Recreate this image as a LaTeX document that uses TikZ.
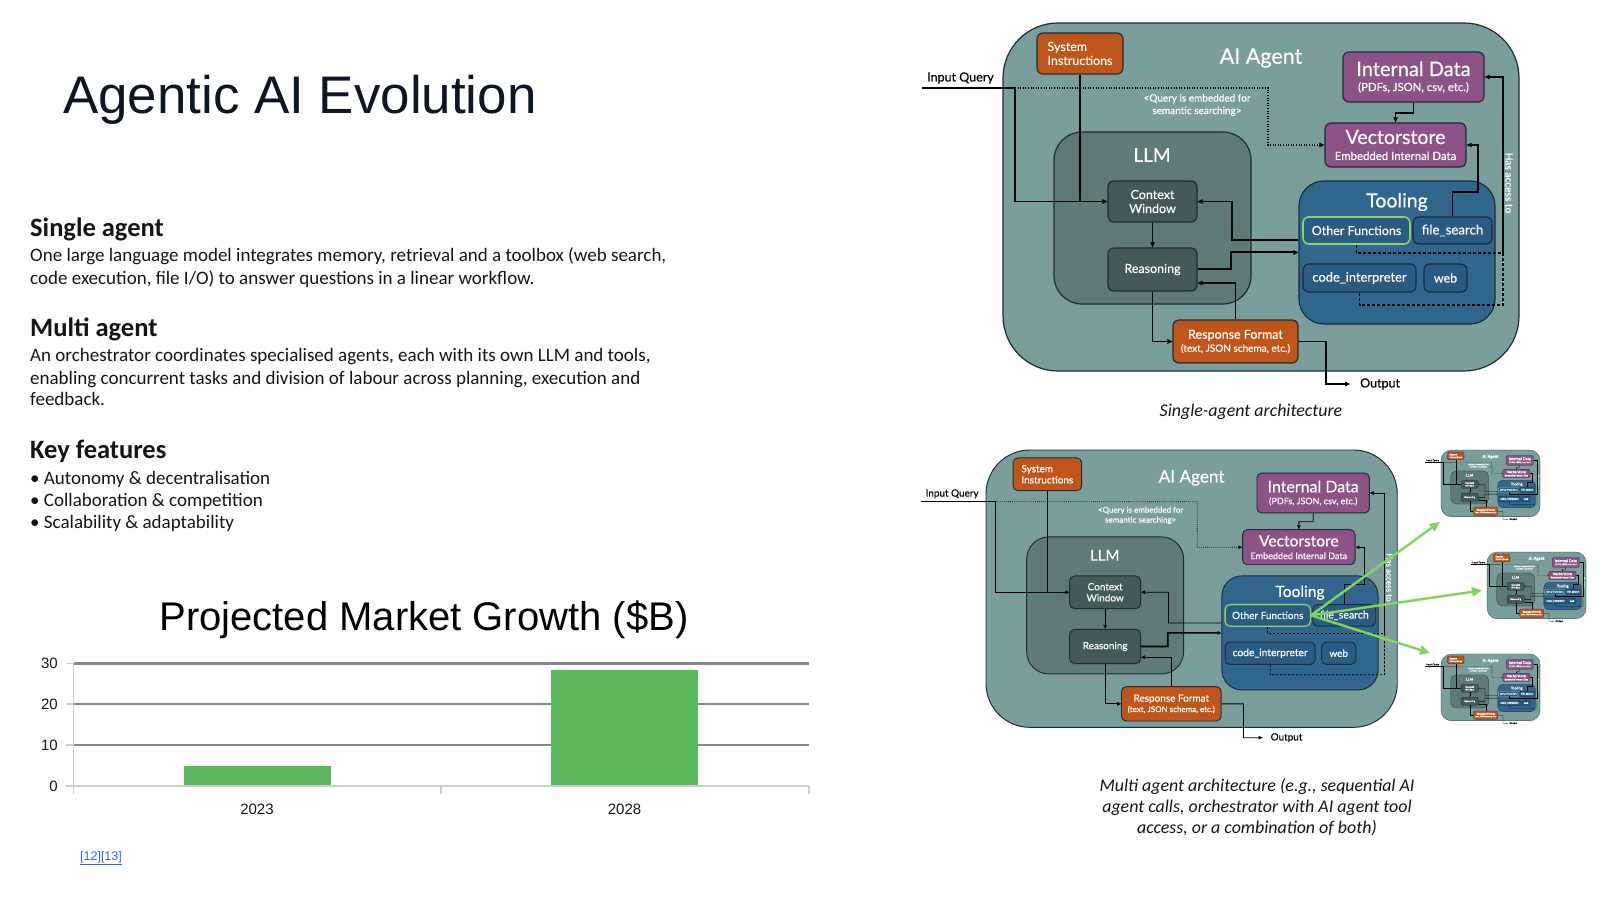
\documentclass[tikz,border=0pt]{standalone}
\usepackage{fontspec}
\setmainfont{Carlito}
\newfontfamily\arialfont{Liberation Sans}
\newfontfamily\diafont[FakeBold=0.35]{Lato}
\usetikzlibrary{arrows.meta}

\definecolor{agentfill}{HTML}{7A9E9C}
\definecolor{llmfill}{HTML}{5E7A79}
\definecolor{corefill}{HTML}{44595A}
\definecolor{orangefill}{HTML}{C0551C}
\definecolor{purplefill}{HTML}{8D5389}
\definecolor{toolfill}{HTML}{31668F}
\definecolor{toolinner}{HTML}{2A5B82}
\definecolor{edge}{HTML}{1C2B38}
\definecolor{okgreen}{HTML}{8CD46A}
\definecolor{arrowgreen}{HTML}{80D65C}
\definecolor{bargreen}{HTML}{5CB85C}
\definecolor{gridgray}{HTML}{878787}
\definecolor{axisgray}{HTML}{CCCCCC}
\definecolor{linkblue}{HTML}{2F6DB5}
\definecolor{inkdark}{HTML}{151515}
\definecolor{titleink}{HTML}{0F1623}

\tikzset{
  outline/.style={draw=edge, line width=\lwbox, inner sep=0pt},
  agentbox/.style={outline, fill=agentfill, rounded corners=\rA, minimum width=516pt, minimum height=348pt},
  llmbox/.style={outline, fill=llmfill, rounded corners=\rB, minimum width=197pt, minimum height=172pt},
  toolbox/.style={outline, fill=toolfill, rounded corners=\rC, minimum width=196pt, minimum height=143pt},
  card/.style={outline, rounded corners=\rD, text=white, align=center, font=\diafont\fontsize{12.5}{14}\selectfont},
  corecard/.style={card, fill=corefill, minimum width=89pt},
  orangecard/.style={card, fill=orangefill},
  purplecard/.style={card, fill=purplefill, minimum width=141pt},
  toolcard/.style={card, fill=toolinner, minimum height=27pt},
  greencard/.style={toolcard, draw=okgreen, line width=\lwgreen},
  whitelabel/.style={text=white, inner sep=0pt, font=\diafont\fontsize{#1}{#1}\selectfont},
  plainlabel/.style={text=black, inner sep=0pt, font=\diafont\fontsize{12.5}{14}\selectfont},
  link/.style={draw=black, line width=\lwconn, -{Triangle[length=\tipL,width=\tipW]}},
  plainlink/.style={draw=black, line width=\lwconn},
  heavylink/.style={link, line width=\lwthick},
  dotlink/.style={link, dash pattern=on \dotOn off \dotOff},
  dashlink/.style={plainlink, dash pattern=on \dashOn off \dashOff},
  bodyline/.style={anchor=base west, inner sep=0pt, text=inkdark, font=\fontsize{19}{23}\selectfont},
  headline/.style={anchor=base west, inner sep=0pt, text=inkdark, font=\bfseries\fontsize{26.5}{30}\selectfont},
  gridline/.style={draw=gridgray, line width=2.2pt},
  axisline/.style={draw=axisgray, line width=1.8pt},
  axislabel/.style={inner sep=0pt, text=inkdark, font=\arialfont\fontsize{15}{17}\selectfont},
  fanout/.style={draw=arrowgreen, line width=2.4pt, -{Triangle[length=10pt,width=9pt]}},
}

% One agent architecture drawing; #1 name prefix, (#2,#3) top-left corner, #4 scale
\newcommand{\agentdiagram}[4]{%
\begin{scope}[shift={(#2,#3)}, scale=#4, shift={(-1003,-23)}, transform shape, name prefix=#1-]
  \pgfmathsetlengthmacro{\lwbox}{1.2pt*#4}
  \pgfmathsetlengthmacro{\lwconn}{1.1pt*#4}
  \pgfmathsetlengthmacro{\lwthick}{2pt*#4}
  \pgfmathsetlengthmacro{\lwgreen}{1.6pt*#4}
  \pgfmathsetlengthmacro{\rA}{55pt*#4}
  \pgfmathsetlengthmacro{\rB}{28pt*#4}
  \pgfmathsetlengthmacro{\rC}{25pt*#4}
  \pgfmathsetlengthmacro{\rD}{6pt*#4}
  \pgfmathsetlengthmacro{\tipL}{5pt*#4}
  \pgfmathsetlengthmacro{\tipW}{4.5pt*#4}
  \pgfmathsetlengthmacro{\dotOn}{1pt*#4}
  \pgfmathsetlengthmacro{\dotOff}{1.6pt*#4}
  \pgfmathsetlengthmacro{\dashOn}{3pt*#4}
  \pgfmathsetlengthmacro{\dashOff}{2pt*#4}
  % containers
  \node[agentbox] (agent) at (1261,197) {};
  \node[whitelabel=21.5] (agentname) at (1261,58) {AI Agent};
  \node[llmbox] (llm) at (1152.5,218) {};
  \node[whitelabel=19] (llmname) at (1152,155) {LLM};
  \node[toolbox] (tooling) at (1397,252.5) {};
  \node[whitelabel=19.5] (toolname) at (1397,202) {Tooling};
  % cards
  \node[orangecard, minimum width=86pt, minimum height=41pt, align=left] (sysinst) at (1080,53.5) {System\\Instructions};
  \node[corecard, minimum height=41pt] (ctx) at (1152.5,201.5) {Context\\Window};
  \node[corecard, minimum height=43pt] (reason) at (1152.5,269.5) {Reasoning};
  \node[orangecard, minimum width=125pt, minimum height=43pt] (respfmt) at (1235.5,341.5)
    {Response Format\\[-1pt]{\fontsize{10}{11}\selectfont (text, JSON schema, etc.)}};
  \node[purplecard, minimum height=50pt] (intdata) at (1413.5,77)
    {{\fontsize{20}{22}\selectfont Internal Data}\\[1pt]{\fontsize{11.3}{12}\selectfont (PDFs, JSON, csv, etc.)}};
  \node[purplecard, minimum height=44pt] (vstore) at (1395.5,145)
    {{\fontsize{19.5}{21}\selectfont Vectorstore}\\[2pt]{\fontsize{11.4}{12}\selectfont Embedded Internal Data}};
  \node[greencard, minimum width=107pt] (otherfn) at (1356.5,230.5) {Other Functions};
  \node[toolcard, minimum width=79pt, font=\diafont\fontsize{13.3}{14}\selectfont] (filesearch) at (1452.5,230.5) {file\_search};
  \node[toolcard, minimum width=113pt, minimum height=28pt, font=\diafont\fontsize{12.9}{14}\selectfont] (codeint) at (1359.5,278) {code\_interpreter};
  \node[toolcard, minimum width=43pt, minimum height=28pt] (web) at (1445.5,278) {web};
  % free labels
  \node[plainlabel, anchor=west] (iqlabel) at (927,78) {Input Query};
  \node[whitelabel=10, font=\diafont\fontsize{10}{12.5}\selectfont, align=center] (embednote) at (1197,105)
    {<Query is embedded for\\semantic searching>};
  \node[plainlabel, anchor=west, inner xsep=10pt] (outlabel) at (1350,384) {Output};
  \node[whitelabel=10.2, rotate=-90] (access) at (1509,183) {Has access to};
  % junctions
  \coordinate (iqs) at (922,88);
  \coordinate (iqj) at (1015,88);
  \coordinate (accessjoin) at (1503,253);
  % connectors
  \draw[plainlink] (iqs) -- (iqj);
  \draw[link] (iqj) |- (ctx.west);
  \draw[plainlink] (sysinst.south) -- (sysinst.south |- ctx.west);
  \draw[dotlink] (iqj) -- (1268,88) |- (vstore.west);
  \draw[link] (ctx.south) -- (reason.north);
  \draw[link] (reason.south) |- (respfmt.west);
  \draw[link] (respfmt.north) |- (reason.east |- 1237,283);
  \draw[heavylink] (reason.east) -| (1231,252.5) -- (tooling.west);
  \draw[link] (tooling.west |- 1299,240) -| (1232,201.5) -- (ctx.east);
  \draw[link] (intdata.south) -- (1413.5,113) -| (vstore.north);
  \draw[link] (filesearch.north) |- (1478,192) |- (vstore.east);
  \draw[link] (accessjoin) |- (intdata.east);
  \draw[dashlink] (otherfn.south) |- (accessjoin);
  \draw[dashlink] (codeint.south) |- (1503,305) -- (accessjoin);
  \draw[link] (respfmt.east) -- (1326,341.5) |- (outlabel.west);
\end{scope}}

\begin{document}
\begin{tikzpicture}[x=1pt, y=-1pt]
  \useasboundingbox (0,0) rectangle (1600,901);
  \fill[white] (0,0) rectangle (1600,901);

  % title and text column
  \node[anchor=base west, inner sep=0pt, text=titleink, font=\arialfont\fontsize{52.9}{60}\selectfont] (title) at (63,114) {Agentic AI Evolution};

  \node[headline] (h1) at (30,236.5) {Single agent};
  \node[bodyline] (s1) at (30,261.7) {One large language model integrates memory, retrieval and a toolbox (web search,};
  \node[bodyline] (s2) at (30,284.3) {code execution, file I/O) to answer questions in a linear workflow.};

  \node[headline] (h2) at (30,336.7) {Multi agent};
  \node[bodyline] (m1) at (30,361.7) {An orchestrator coordinates specialised agents, each with its own LLM and tools,};
  \node[bodyline] (m2) at (30,384) {enabling concurrent tasks and division of labour across planning, execution and};
  \node[bodyline] (m3) at (30,405.7) {feedback.};

  \node[headline] (h3) at (30,458.3) {Key features};
  \node[bodyline] (k1) at (30,484) {• Autonomy \& decentralisation};
  \node[bodyline] (k2) at (30,506) {• Collaboration \& competition};
  \node[bodyline] (k3) at (30,528.3) {• Scalability \& adaptability};

  % market chart
  \node[anchor=base, inner sep=0pt, text=black, font=\arialfont\fontsize{40}{46}\selectfont] (charttitle) at (424,630) {Projected Market Growth (\$B)};
  \foreach \v/\yy in {10/745.2,20/704.3,30/663.5}{
    \draw[gridline] (73.5,\yy) -- (809,\yy);
  }
  \fill[bargreen] (183.7,786) rectangle (330.6,766.4);
  \fill[bargreen] (551,786) rectangle (698,669.6);
  \foreach \v/\yy in {0/786,10/745.2,20/704.3,30/663.5}{
    \draw[axisline] (66,\yy) -- (73.5,\yy);
    \node[axislabel, anchor=east] (ylab\v) at (58,\yy) {\v};
  }
  \draw[axisline] (73.5,663.5) -- (73.5,794);
  \draw[axisline] (73.5,786) -- (809,786);
  \draw[axisline] (441,786) -- (441,794);
  \draw[axisline] (809,786) -- (809,794);
  \node[axislabel] (x2023) at (257,809) {2023};
  \node[axislabel] (x2028) at (624.5,809) {2028};
  \node[inner sep=0pt, text=linkblue, font=\arialfont\fontsize{12.5}{14}\selectfont] (refs) at (101,858) {\underline{[12][13]}};

  % architecture drawings
  \agentdiagram{single}{1003}{23}{1}
  \agentdiagram{multi}{986}{450}{0.797}
  \agentdiagram{subA}{1441}{450}{0.192}
  \agentdiagram{subB}{1487}{552}{0.192}
  \agentdiagram{subC}{1441}{654}{0.192}

  % fan-out to the sub-agents
  \draw[fanout] (multi-otherfn.east) -- ([xshift=-1pt,yshift=-5pt]subA-agent.south west);
  \draw[fanout] (multi-otherfn.east) -- ([xshift=-5pt,yshift=-5pt]subB-agent.west);
  \draw[fanout] (multi-otherfn.east) -- ([xshift=-11pt,yshift=1pt]subC-agent.north west);

  % captions
  \node[inner sep=0pt, text=inkdark, font=\itshape\fontsize{17.9}{21}\selectfont] (cap1) at (1251,412) {Single-agent architecture};
  \node[inner sep=0pt, text=inkdark, align=center, font=\itshape\fontsize{17.9}{21.3}\selectfont] (cap2) at (1257,807)
    {Multi agent architecture (e.g., sequential AI\\agent calls, orchestrator with AI agent tool\\access, or a combination of both)};
\end{tikzpicture}
\end{document}
